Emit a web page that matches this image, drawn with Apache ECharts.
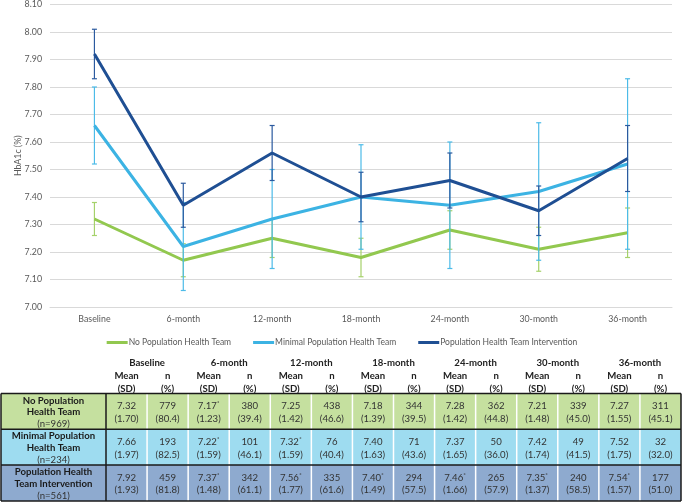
<!DOCTYPE html>
<html><head><meta charset="utf-8">
<script src="https://cdn.jsdelivr.net/npm/echarts@6/dist/echarts.min.js"></script>
<style>html,body{margin:0;padding:0;background:#fff}#c{width:684px;height:502px}</style>
</head><body><div id="c"></div>
<script>
const categories = ['Baseline','6-month','12-month','18-month','24-month','30-month','36-month'];
const seriesNames = ['No Population Health Team','Minimal Population Health Team','Population Health Team Intervention'];
const yTicks = [7.0, 8.1, 0.1];

const noMean  = [7.32,7.17,7.25,7.18,7.28,7.21,7.27];
const minMean = [7.66,7.22,7.32,7.40,7.37,7.42,7.52];
const phtMean = [7.92,7.37,7.56,7.40,7.46,7.35,7.54];

const noLow   = [7.26,7.11,7.18,7.11,7.21,7.13,7.18];
const noHigh  = [7.38,7.23,7.32,7.25,7.35,7.29,7.36];
const minLow  = [7.52,7.06,7.14,7.21,7.14,7.17,7.21];
const minHigh = [7.80,7.38,7.50,7.59,7.60,7.67,7.83];
const phtLow  = [7.83,7.29,7.46,7.31,7.36,7.26,7.42];
const phtHigh = [8.01,7.45,7.66,7.49,7.56,7.44,7.66];

const noSD  = ['1.70','1.23','1.42','1.39','1.42','1.48','1.55'];
const minSD = ['1.97','1.59','1.59','1.63','1.65','1.74','1.75'];
const phtSD = ['1.93','1.48','1.77','1.49','1.66','1.37','1.57'];
const noN  = [779,380,438,344,362,339,311];
const minN = [193,101,76,71,50,49,32];
const phtN = [459,342,335,294,265,240,177];
const noPct  = ['80.4','39.4','46.6','39.5','44.8','45.0','45.1'];
const minPct = ['82.5','46.1','40.4','43.6','36.0','41.5','32.0'];
const phtPct = ['81.8','61.1','61.6','57.5','57.9','58.5','51.0'];
const noStar  = [0,1,0,0,0,0,0];
const minStar = [0,1,1,0,0,0,0];
const phtStar = [0,1,1,1,1,1,1];
const rowLabels = [['No Population','Health Team'],['Minimal Population','Health Team'],['Population Health','Team Intervention']];
const rowTotals = [969,234,561];

const FONT = 'Lato, "Open Sans", sans-serif';
const lineColors = ['#92c84f','#3cb3e3','#1f4f93'];
const barColors  = ['#a5d16a','#4cbbe8','#2b5a9f'];
const rowFills   = ['#c5e09f','#9edcf0','#8eaacf'];

const means = [noMean, minMean, phtMean];
const lows = [noLow, minLow, phtLow];
const highs = [noHigh, minHigh, phtHigh];

const series = [];
for (let s = 0; s < 3; s++) {
  series.push({
    type: 'line', name: seriesNames[s], data: means[s], symbol: 'none',
    lineStyle: { width: 3, color: lineColors[s] }, itemStyle: { color: lineColors[s] }, z: 3 + s
  });
  series.push({
    type: 'custom', name: seriesNames[s] + ' err', z: 3 + s,
    data: categories.map((c, i) => [i, lows[s][i], highs[s][i]]),
    encode: { x: 0, y: [1, 2] },
    renderItem: function (params, api) {
      const lo = api.coord([api.value(0), api.value(1)]);
      const hi = api.coord([api.value(0), api.value(2)]);
      const hw = 2.5;
      const st = { stroke: barColors[s], lineWidth: 1.2 };
      return { type: 'group', children: [
        { type: 'line', shape: { x1: lo[0], y1: lo[1], x2: hi[0], y2: hi[1] }, style: st },
        { type: 'line', shape: { x1: lo[0]-hw, y1: lo[1], x2: lo[0]+hw, y2: lo[1] }, style: st },
        { type: 'line', shape: { x1: hi[0]-hw, y1: hi[1], x2: hi[0]+hw, y2: hi[1] }, style: st }
      ]};
    }
  });
}

// table layout
const colLeft = 106, tableRight = 681, colW = (tableRight - colLeft) / 14;
const tableTop = 393.5, rowH = 35.8;
const txtCol = '#333333';
const FS = 9.6;
const g = [];
// header
for (let i = 0; i < categories.length; i++) {
  const cx = colLeft + (2 * i + 1) * colW;
  g.push({ type: 'text', z: 100, style: { text: categories[i], x: cx, y: 362.5, align: 'center', verticalAlign: 'middle', fontFamily: FONT, fontWeight: 'bold', fontSize: FS, fill: '#222' } });
  g.push({ type: 'text', z: 100, style: { text: 'Mean\n(SD)', x: cx - colW / 2, y: 382, align: 'center', verticalAlign: 'middle', lineHeight: 13, fontFamily: FONT, fontWeight: 'bold', fontSize: FS, fill: '#222' } });
  g.push({ type: 'text', z: 100, style: { text: 'n\n(%)', x: cx + colW / 2, y: 382, align: 'center', verticalAlign: 'middle', lineHeight: 13, fontFamily: FONT, fontWeight: 'bold', fontSize: FS, fill: '#222' } });
}
const tMean = [noMean, minMean, phtMean], tSD = [noSD, minSD, phtSD], tN = [noN, minN, phtN], tPct = [noPct, minPct, phtPct], tStar = [noStar, minStar, phtStar];
for (let r = 0; r < 3; r++) {
  const y0 = tableTop + r * rowH, cy = y0 + rowH / 2 + 1;
  g.push({ type: 'rect', z: 90, shape: { x: 1, y: y0, width: tableRight - 1, height: rowH }, style: { fill: rowFills[r] } });
  for (let k = 1; k < 14; k++) {
    const x = colLeft + k * colW;
    g.push({ type: 'line', z: 91, shape: { x1: x, y1: y0, x2: x, y2: y0 + rowH }, style: { stroke: '#ffffff', lineWidth: 1.5 } });
  }
  g.push({ type: 'text', z: 100, style: {
    text: '{b|' + rowLabels[r][0] + '}\n{b|' + rowLabels[r][1] + '}\n{r|(n=' + rowTotals[r] + ')}',
    x: 53.5, y: cy, align: 'center', verticalAlign: 'middle',
    rich: { b: { fontFamily: FONT, fontWeight: 'bold', fontSize: FS, fill: '#1a1a1a', lineHeight: 11.8, align: 'center' },
            r: { fontFamily: FONT, fontSize: FS, fill: '#333', lineHeight: 11.8, align: 'center' } } } });
  for (let i = 0; i < 7; i++) {
    const xm = colLeft + (2 * i + 0.5) * colW, xn = colLeft + (2 * i + 1.5) * colW;
    const mv = tMean[r][i].toFixed(2);
    g.push({ type: 'text', z: 100, style: {
      text: '{v|' + mv + '}' + (tStar[r][i] ? '{s|*}' : '') + '\n{v|(' + tSD[r][i] + ')}',
      x: xm, y: cy, align: 'center', verticalAlign: 'middle',
      rich: { v: { fontFamily: FONT, fontSize: FS, fill: txtCol, lineHeight: 12.5 },
              s: { fontFamily: FONT, fontSize: 6.5, fill: txtCol, lineHeight: 12.5, verticalAlign: 'top', padding: [0,0,6,0] } } } });
    g.push({ type: 'text', z: 100, style: {
      text: tN[r][i] + '\n(' + tPct[r][i] + ')', x: xn, y: cy, align: 'center', verticalAlign: 'middle',
      lineHeight: 12.5, fontFamily: FONT, fontSize: FS, fill: txtCol } });
  }
}
// dark borders
const bottom = tableTop + 3 * rowH;
for (let r = 0; r <= 3; r++) {
  const y = tableTop + r * rowH;
  g.push({ type: 'line', z: 95, shape: { x1: 1, y1: y, x2: tableRight, y2: y }, style: { stroke: '#1a1a1a', lineWidth: 1.5 } });
}
[1, colLeft, tableRight].forEach(x => {
  g.push({ type: 'line', z: 95, shape: { x1: x, y1: tableTop, x2: x, y2: bottom }, style: { stroke: '#1a1a1a', lineWidth: 1.5 } });
});

const chart = echarts.init(document.getElementById('c'), null, { renderer: 'canvas' });
chart.setOption({
  animation: false,
  textStyle: { fontFamily: FONT },
  grid: { left: 50, right: 12, top: 3, height: 304, containLabel: false },
  xAxis: {
    type: 'category', data: categories, boundaryGap: true,
    axisLine: { lineStyle: { color: '#d9d9d9', width: 1 } }, axisTick: { show: false },
    axisLabel: { color: '#595959', fontSize: 8.8, fontFamily: FONT, margin: 8 }
  },
  yAxis: {
    type: 'value', min: yTicks[0], max: yTicks[1], interval: yTicks[2],
    name: 'HbA1c (%)', nameLocation: 'middle', nameGap: 27, nameRotate: 90, nameMoveOverlap: false,
    nameTextStyle: { color: '#595959', fontSize: 8.8, fontFamily: FONT },
    axisLine: { show: false }, axisTick: { show: false },
    axisLabel: { color: '#595959', fontSize: 8.8, fontFamily: FONT, margin: 8, formatter: v => v.toFixed(2) },
    splitLine: { lineStyle: { color: '#d9d9d9', width: 1 } }
  },
  legend: {
    data: seriesNames, top: 333, left: 'center', icon: 'rect', itemWidth: 21, itemHeight: 3, itemGap: 22,
    textStyle: { color: '#595959', fontSize: 8.5, fontFamily: FONT, padding: [0,0,0,-4] }
  },
  series: series,
  graphic: g
});
</script></body></html>
